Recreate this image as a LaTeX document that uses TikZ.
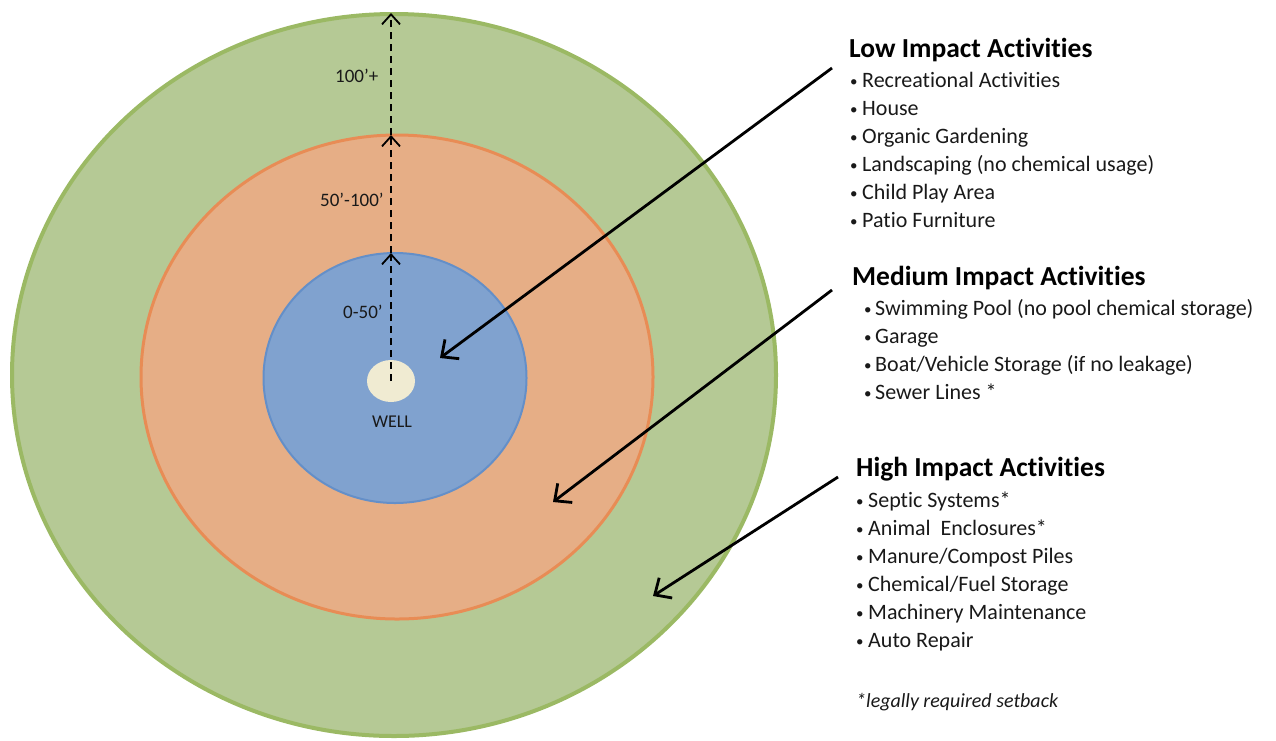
\documentclass[tikz,border=0pt]{standalone}
\usepackage{fontspec}
\setmainfont{Carlito}[Ligatures=NoCommon]
\usetikzlibrary{arrows.meta,shapes.geometric}
\definecolor{gfill}{RGB}{181,201,149}
\definecolor{gedge}{RGB}{155,185,100}
\definecolor{ofill}{RGB}{230,174,134}
\definecolor{oedge}{RGB}{232,140,85}
\definecolor{bfill}{RGB}{128,162,207}
\definecolor{bedge}{RGB}{100,143,200}
\definecolor{wfill}{RGB}{240,235,210}
\definecolor{txt}{RGB}{25,25,25}
\newcommand{\bul}[1]{\makebox[#1][l]{\fontsize{15}{15}\selectfont\raisebox{0.5pt}{•}}}
\tikzset{
  ring/.style={ellipse, inner sep=0pt, outer sep=0pt},
  dist/.style={black, line width=1.8pt, dash pattern=on 7pt off 5pt, -{Straight Barb[length=10pt,width=18pt,line width=1.8pt]}},
  pointer/.style={black, line width=2.8pt, -{Straight Barb[length=13pt,width=24pt,line width=2.8pt]}},
  lbl/.style={font=\fontsize{19}{22}\selectfont, text=txt, inner sep=0pt, anchor=base west},
  head/.style={font=\fontsize{27.5}{30}\selectfont\bfseries, text=black, inner sep=0pt, anchor=base west},
  item/.style={font=\fontsize{22}{28}\selectfont, text=txt, inner sep=0pt, anchor=base west},
}
\begin{document}
\begin{tikzpicture}[x=1pt,y=-1pt]
\useasboundingbox (0,0) rectangle (1276,740);
% rings
\node[ring, fill=gfill, draw=gedge, line width=4pt, minimum width=764pt, minimum height=722pt] (green) at (394,375) {};
\node[ring, fill=ofill, draw=oedge, line width=3pt, minimum width=512pt, minimum height=484pt] (orange) at (397,377) {};
\node[ring, fill=bfill, draw=bedge, line width=2pt, minimum width=263pt, minimum height=250pt] (blue) at (395,378) {};
\node[ring, fill=wfill, minimum width=48pt, minimum height=42pt] (well) at (391,381) {};
% distance arrows
\coordinate (bt) at (391,253);
\coordinate (ot) at (391,135);
\coordinate (gt) at (391,13);
\draw[dist] (well.center) -- (bt);
\draw[dist] (bt) -- (ot);
\draw[dist] (ot) -- (gt);
\node[lbl] (l100) at (335,82) {100’+};
\node[lbl] (l50) at (320,206) {50’-100’};
\node[lbl] (l0) at (343,318) {0-50’};
\node[lbl, font=\fontsize{18}{20}\selectfont, anchor=base] (lwell) at (392,427) {WELL};
% low
\node[head] (lowh) at (849,57) {Low Impact Activities};
\foreach \t [count=\i] in {Recreational Activities,House,Organic Gardening,Landscaping (no chemical usage),Child Play Area,Patio Furniture}
  \node[item] (low\i) at (850,59+28*\i) {\bul{12pt}\t};
% medium
\node[head] (medh) at (852,285) {Medium Impact Activities};
\foreach \t [count=\i] in {Swimming Pool (no pool chemical storage),Garage,Boat/Vehicle Storage (if no leakage),Sewer Lines *}
  \node[item] (med\i) at (864,287+28*\i) {\bul{11pt}\t};
% high
\node[head] (highh) at (856,476) {High Impact Activities};
\foreach \t [count=\i] in {Septic Systems*,Animal\ \ Enclosures*,Manure/Compost Piles,Chemical/Fuel Storage,Machinery Maintenance,Auto Repair}
  \node[item] (high\i) at (856,479+28*\i) {\bul{12pt}\t};
\node[item, font=\fontsize{20}{22}\selectfont\itshape] (note) at (856,707) {*legally required setback};
% pointers
\coordinate (ps1) at (832,68);
\coordinate (pe1) at (440,358);
\coordinate (ps2) at (832,290);
\coordinate (pe2) at (553,502);
\coordinate (ps3) at (838,477);
\coordinate (pe3) at (653,596);
\draw[pointer] (ps1) -- (pe1);
\draw[pointer] (ps2) -- (pe2);
\draw[pointer] (ps3) -- (pe3);
\end{tikzpicture}
\end{document}
